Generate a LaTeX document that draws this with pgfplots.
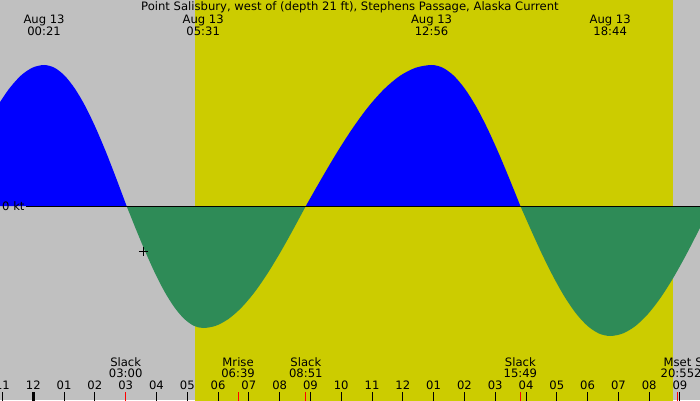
\documentclass[border=0pt]{standalone}
\usepackage{pgfplots}
\pgfplotsset{compat=1.18}
\usepackage{fontspec}
\setmainfont{DejaVu Sans}
\definecolor{bg}{HTML}{C0C0C0}
\definecolor{day}{HTML}{CCCC00}
\definecolor{flood}{HTML}{0000FF}
\definecolor{ebb}{HTML}{2E8B57}
\newcommand\lf{\fontsize{11.6}{13}\selectfont}
\tikzset{lab/.style={font=\lf, inner sep=0pt, text=black}}
\begin{document}
\begin{tikzpicture}
\begin{axis}[name=main, scale only axis, width=700pt, height=400pt,
  xmin=-1.081, xmax=21.65, ymin=-1.94, ymax=2.06, hide axis, clip=true]
% background and daylight
\fill[bg] (rel axis cs:0,0) rectangle (rel axis cs:1,1);
\fill[day] (axis cs:5.25,-3) rectangle (axis cs:20.773,3);
% flood (blue) and ebb (green)
\addplot[fill=flood, draw=none, smooth] coordinates {(-1.1,1.030) (-0.786,1.172) (-0.408,1.303) (-0.029,1.383) (0.35,1.41) (0.685,1.383) (1.02,1.303) (1.355,1.172) (1.69,0.997) (2.025,0.783) (2.36,0.540) (2.695,0.275) (3.03,0)} \closedcycle;
\addplot[fill=ebb, draw=none, smooth] coordinates {(3.03,0) (3.341,-0.238) (3.652,-0.467) (3.963,-0.678) (4.274,-0.863) (4.584,-1.014) (4.895,-1.127) (5.206,-1.197) (5.517,-1.22) (5.934,-1.197) (6.350,-1.127) (6.767,-1.014) (7.184,-0.863) (7.600,-0.678) (8.017,-0.467) (8.434,-0.238) (8.85,0)} \closedcycle;
\addplot[fill=flood, draw=none, smooth] coordinates {(8.85,0) (9.360,0.275) (9.871,0.540) (10.381,0.783) (10.892,0.997) (11.402,1.172) (11.912,1.303) (12.423,1.383) (12.933,1.41) (13.294,1.383) (13.654,1.303) (14.015,1.172) (14.375,0.997) (14.736,0.783) (15.096,0.540) (15.457,0.275) (15.817,0)} \closedcycle;
\addplot[fill=ebb, draw=none, smooth] coordinates {(15.817,0) (16.182,-0.254) (16.546,-0.498) (16.911,-0.722) (17.275,-0.919) (17.640,-1.081) (18.004,-1.201) (18.369,-1.275) (18.733,-1.30) (19.141,-1.275) (19.550,-1.201) (19.958,-1.081) (20.367,-0.919) (20.775,-0.722) (21.183,-0.498) (21.592,-0.254) (22.0,0)} \closedcycle;
% zero line
\draw[black, line width=1pt] (axis cs:-0.237,0) -- (axis cs:22.5,0);
\node[lab, anchor=base west] at (axis cs:-1.016,-0.045) {0 kt};
% current time marker
\addplot[only marks, mark=+, mark size=4.5pt, black, line width=0.9pt] coordinates {(3.572,-0.457)};
% hour ticks and labels
\foreach \h/\l in {-1/11,0/12,1/01,2/02,3/03,4/04,5/05,6/06,7/07,8/08,9/09,10/10,11/11,12/12,13/01,14/02,15/03,16/04,17/05,18/06,19/07,20/08,21/09}{
  \edef\temp{\noexpand\draw[black, line width=1pt] (axis cs:\h,-1.86) -- (axis cs:\h,-1.96);
  \noexpand\node[lab, anchor=base] at (axis cs:\h,-1.833) {\l};}
  \temp
}
\draw[black, line width=3pt] (axis cs:0,-1.86) -- (axis cs:0,-1.96);
% event ticks and labels
\foreach \h/\n/\t in {3.0/Slack/03:00,6.65/Mrise/06:39,8.85/Slack/08:51,15.817/Slack/15:49,20.917/Mset/20:55,22.0/Slack/22:00}{
  \edef\temp{\noexpand\draw[red, line width=1pt] (axis cs:\h,-1.86) -- (axis cs:\h,-1.96);
  \noexpand\node[lab, anchor=base] at (axis cs:\h,-1.605) {\n};
  \noexpand\node[lab, anchor=base] at (axis cs:\h,-1.717) {\t};}
  \temp
}
% top labels
\foreach \h/\t in {0.35/00:21,5.517/05:31,12.933/12:56,18.733/18:44}{
  \edef\temp{\noexpand\node[lab, anchor=base] at (axis cs:\h,1.82) {Aug 13};
  \noexpand\node[lab, anchor=base] at (axis cs:\h,1.70) {\t};}
  \temp
}
\node[lab, anchor=base] at (axis cs:10.284,1.95) {Point Salisbury, west of (depth 21 ft), Stephens Passage, Alaska Current};
\end{axis}
\pgfresetboundingbox
\path[use as bounding box] (main.south west) rectangle (main.north east);
\end{tikzpicture}
\end{document}
